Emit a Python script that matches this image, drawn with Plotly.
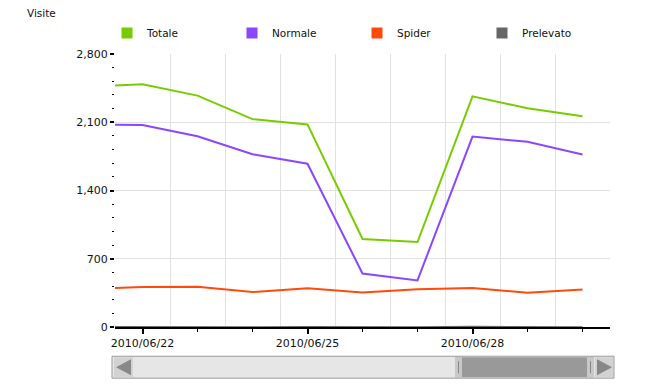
import plotly.graph_objects as go

dates = ["2010-06-21", "2010-06-22", "2010-06-23", "2010-06-24", "2010-06-25",
         "2010-06-26", "2010-06-27", "2010-06-28", "2010-06-29", "2010-06-30"]
totale = [2465, 2489, 2373, 2132, 2078, 903, 871, 2366, 2243, 2161]
normale = [2078, 2072, 1956, 1772, 1675, 548, 478, 1953, 1899, 1769]
spider = [390, 410, 414, 359, 398, 353, 388, 400, 352, 384]
prelevato = [4, 1, 3, 0, 2, 0, 1, 5, 3, 0]

series_names = ["Totale", "Normale", "Spider", "Prelevato"]
series_values = [totale, normale, spider, prelevato]
colors = ["#77cc00", "#8a47ff", "#ff4a0a", "#666666"]
line_widths = [2, 2, 2, 1.5]

label_days = ["2010-06-22", "2010-06-25", "2010-06-28"]
label_text = ["2010/06/22", "2010/06/25", "2010/06/28"]
y_ticks = [0, 700, 1400, 2100, 2800]

FONT = "DejaVu Sans"

# the page body has an 8px default margin: work in page pixels, shift by O
O = 8
W, H = 662 - 2 * O, 392 - 2 * O
PL, PR, PT, PB = 115, 610, 53, 326.7   # plot area in page pixels
L = PL - O
R = W - (PR - O)
T = PT - O
B = H - (PB - O)
pw = W - L - R
ph = H - T - B


def px(xp):
    return (xp - O - L) / pw


def py(yp):
    return (H - B - (yp - O)) / ph


fig = go.Figure()
for name, vals, col, lw in zip(series_names, series_values, colors, line_widths):
    fig.add_trace(go.Scatter(x=dates, y=vals, mode="lines", name=name,
                             line=dict(color=col, width=lw), showlegend=False))
for name, col in zip(series_names, colors):
    fig.add_trace(go.Scatter(x=[None], y=[None], mode="markers", name=name,
                             marker=dict(color=col, symbol="square", size=11),
                             showlegend=True))

# unlabeled day ticks on a matching overlay axis
fig.add_trace(go.Scatter(x=[dates[0]], y=[None], xaxis="x2", showlegend=False,
                         hoverinfo="skip"))

fig.update_layout(
    width=W, height=H,
    margin=dict(l=L, r=R, t=T, b=B),
    paper_bgcolor="white", plot_bgcolor="white",
    font=dict(family=FONT, size=11, color="#111111"),
    xaxis=dict(
        type="date",
        range=["2010-06-21 12:00", "2010-06-30 12:00"],
        tickvals=label_days, ticktext=label_text,
        ticks="outside", ticklen=5, tickwidth=2, tickcolor="black",
        showgrid=False, zeroline=False,
        showline=True, linecolor="black", linewidth=2,
        minor=dict(tick0="2010-06-21 12:00", dtick=86400000, showgrid=True,
                   gridcolor="#e2e2e2", gridwidth=1, ticks=""),
        tickfont=dict(family=FONT, size=11),
    ),
    xaxis2=dict(
        type="date", overlaying="x", matches="x", anchor="y", side="bottom",
        range=["2010-06-21 12:00", "2010-06-30 12:00"],
        tick0="2010-06-21", dtick=86400000,
        ticks="outside", ticklen=4, tickwidth=1, tickcolor="black",
        showticklabels=False, showgrid=False, zeroline=False, showline=False,
    ),
    yaxis=dict(
        range=[0, 2800], tickvals=y_ticks, tickformat=",d",
        ticks="outside", ticklen=4, tickwidth=2, tickcolor="black",
        showgrid=True, gridcolor="#e2e2e2", gridwidth=1,
        zeroline=False, showline=False,
        minor=dict(dtick=140, ticks="outside", ticklen=2, tickwidth=1,
                   tickcolor="black", showgrid=False),
        tickfont=dict(family=FONT, size=11),
    ),
    legend=dict(orientation="h", x=px(107), y=py(33),
                xanchor="left", yanchor="middle",
                entrywidth=80, entrywidthmode="pixels",
                font=dict(family=FONT, size=10.5),
                bgcolor="rgba(0,0,0,0)", itemclick=False),
    showlegend=True,
    annotations=[dict(text="Visite", xref="paper", yref="paper",
                      x=px(25), y=py(12),
                      xanchor="left", yanchor="middle", showarrow=False,
                      font=dict(family=FONT, size=10.5))],
)

shapes = []
# scrollbar background
shapes.append(dict(type="rect", xref="paper", yref="paper",
                   x0=px(112), x1=px(614), y0=py(378), y1=py(356),
                   fillcolor="#e6e6e6", line=dict(color="#999999", width=1)))
# thumb
shapes.append(dict(type="rect", xref="paper", yref="paper",
                   x0=px(455), x1=px(594), y0=py(377), y1=py(357),
                   fillcolor="#999999", line=dict(width=0)))
shapes.append(dict(type="rect", xref="paper", yref="paper",
                   x0=px(455), x1=px(462), y0=py(377), y1=py(357),
                   fillcolor="#c8c8c8", line=dict(width=0)))
shapes.append(dict(type="rect", xref="paper", yref="paper",
                   x0=px(587), x1=px(594), y0=py(377), y1=py(357),
                   fillcolor="#c8c8c8", line=dict(width=0)))
for gx in (458.5, 590.5):
    shapes.append(dict(type="line", xref="paper", yref="paper",
                       x0=px(gx), x1=px(gx), y0=py(373), y1=py(361),
                       line=dict(color="#888888", width=1)))
# buttons
for bx0, bx1 in ((114, 133), (595, 613)):
    shapes.append(dict(type="rect", xref="paper", yref="paper",
                       x0=px(bx0), x1=px(bx1), y0=py(377), y1=py(357),
                       fillcolor="#d2d2d2", line=dict(width=0)))
# arrows
shapes.append(dict(type="path", xref="paper", yref="paper",
                   path="M {a},{b} L {c},{d} L {c},{e} Z".format(
                       a=px(116), b=py(367), c=px(131), d=py(359), e=py(375)),
                   fillcolor="#888888", line=dict(width=0)))
shapes.append(dict(type="path", xref="paper", yref="paper",
                   path="M {a},{b} L {c},{d} L {c},{e} Z".format(
                       a=px(612), b=py(367), c=px(597), d=py(359), e=py(375)),
                   fillcolor="#888888", line=dict(width=0)))
fig.update_layout(shapes=shapes)

fig.write_html("out.html")
